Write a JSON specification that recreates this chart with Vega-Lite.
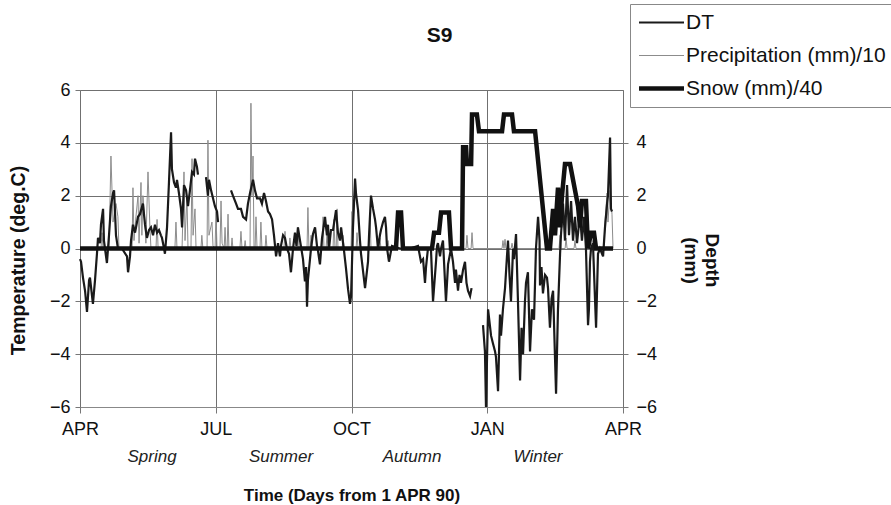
{
  "$schema": "https://vega.github.io/schema/vega-lite/v6.json",
  "width": 543,
  "height": 317,
  "autosize": {"type": "none"},
  "padding": {"left": 80, "top": 90, "right": 268, "bottom": 98},
  "background": "white",
  "title": {"text": "S9", "fontSize": 21, "font": "Liberation Sans", "fontWeight": "bold", "dx": 88, "offset": -42, "color": "#111"},
  "config": {
    "font": "Liberation Sans",
    "view": {"stroke": "#8a8a8a", "strokeWidth": 1},
    "axis": {"labelColor": "#111", "titleColor": "#111", "tickColor": "#777", "gridColor": "#707070", "labelFont": "Liberation Sans", "titleFont": "Liberation Sans"}
  },
  "datasets": {
    "precip": [
      {"day":0,"value":0},{"day":14.1,"value":0},{"day":14.8,"value":0.6},{"day":15.5,"value":0},{"day":19.5,"value":0},{"day":20.8,"value":3.5},{"day":22.2,"value":1.0},{"day":24.2,"value":1.7},{"day":25.5,"value":1.2},{"day":26.2,"value":0},
      {"day":35.0,"value":0},{"day":35.6,"value":2.3},{"day":36.3,"value":0.3},{"day":37.6,"value":1.2},{"day":39.0,"value":2.0},{"day":39.7,"value":0.2},{"day":41.0,"value":2.5},{"day":41.6,"value":0.5},{"day":42.3,"value":2.0},{"day":43.7,"value":1.0},{"day":44.3,"value":0.2},{"day":45.7,"value":2.9},{"day":47.0,"value":0.8},{"day":47.7,"value":0},
      {"day":51.1,"value":0},{"day":51.8,"value":1.1},{"day":52.5,"value":0},{"day":63.8,"value":0},{"day":64.5,"value":1.0},{"day":65.2,"value":0},{"day":68.6,"value":0},{"day":69.9,"value":2.9},{"day":70.6,"value":0.3},{"day":71.9,"value":2.0},{"day":72.6,"value":0},{"day":74.6,"value":0},{"day":75.3,"value":3.4},{"day":76.0,"value":0.5},{"day":77.3,"value":1.5},{"day":78.0,"value":0},
      {"day":81.3,"value":0},{"day":81.9,"value":0.5},{"day":82.6,"value":0},{"day":85.4,"value":0},{"day":86.0,"value":4.1},{"day":86.7,"value":0.5},{"day":88.7,"value":1.0},{"day":89.4,"value":0.1},{"day":90.8,"value":0},{"day":91.4,"value":1.4},{"day":92.1,"value":0},{"day":94.1,"value":0},{"day":94.8,"value":1.8},{"day":95.5,"value":0.2},{"day":96.9,"value":0},{"day":97.5,"value":0.8},{"day":98.1,"value":0},{"day":98.9,"value":0},{"day":99.5,"value":1.3},{"day":100.1,"value":0},{"day":101.6,"value":0},{"day":102.2,"value":0.4},{"day":102.8,"value":0},
      {"day":107.5,"value":0},{"day":108.2,"value":0.65},{"day":108.9,"value":0},{"day":110.4,"value":0},{"day":111.0,"value":0.3},{"day":111.6,"value":0},{"day":114.3,"value":0},{"day":114.9,"value":5.5},{"day":115.6,"value":2.0},{"day":116.3,"value":3.5},{"day":117.0,"value":0},{"day":117.7,"value":0},{"day":118.3,"value":1.2},{"day":119.0,"value":0},{"day":121.0,"value":0},{"day":121.6,"value":1.0},{"day":122.3,"value":0},{"day":124.4,"value":0},{"day":125.0,"value":0.5},{"day":125.7,"value":0},
      {"day":137.1,"value":0},{"day":137.8,"value":0.65},{"day":138.5,"value":0},{"day":140.5,"value":0},{"day":141.1,"value":0.4},{"day":141.8,"value":0},{"day":145.9,"value":0},{"day":146.5,"value":0.8},{"day":147.2,"value":0},{"day":152.6,"value":0},{"day":153.2,"value":1.55},{"day":153.9,"value":0},{"day":154.7,"value":0},{"day":155.3,"value":0.5},{"day":156.0,"value":0},
      {"day":162.7,"value":0},{"day":163.4,"value":1.2},{"day":164.0,"value":0},{"day":165.4,"value":0},{"day":166.0,"value":0.5},{"day":166.7,"value":0},{"day":170.1,"value":0},{"day":170.7,"value":1.1},{"day":171.4,"value":0},{"day":172.2,"value":0},{"day":172.8,"value":1.5},{"day":173.4,"value":0},{"day":176.2,"value":0},{"day":176.8,"value":0.5},{"day":177.5,"value":0},
      {"day":182.2,"value":0},{"day":182.8,"value":1.4},{"day":183.5,"value":0},{"day":185.6,"value":0},{"day":186.2,"value":0.6},{"day":186.9,"value":0},{"day":194.3,"value":0},{"day":195.0,"value":1.2},{"day":195.6,"value":0},{"day":201.0,"value":0},{"day":201.6,"value":0.4},{"day":202.3,"value":0},{"day":206.4,"value":0},{"day":207.1,"value":0.3},{"day":207.7,"value":0},
      {"day":259.5,"value":0},{"day":260.1,"value":0.5},{"day":260.8,"value":0},{"day":262.9,"value":0},{"day":263.5,"value":0.6},{"day":264.2,"value":0},{"day":283.7,"value":0},{"day":284.3,"value":0.3},{"day":285.0,"value":0},{"day":285.7,"value":0.35},{"day":286.3,"value":0},{"day":289.8,"value":0},{"day":290.4,"value":0.2},{"day":291.1,"value":0},
      {"day":322.0,"value":0},{"day":322.7,"value":0.5},{"day":323.3,"value":0},{"day":326.1,"value":0},{"day":326.7,"value":0.4},{"day":327.4,"value":0},{"day":332.1,"value":0},{"day":332.7,"value":0.3},{"day":333.4,"value":0},{"day":344.2,"value":0},{"day":344.8,"value":0.3},{"day":345.5,"value":0},
      {"day":352.2,"value":0},{"day":352.9,"value":1.0},{"day":354.3,"value":2.1},{"day":354.9,"value":1.0},{"day":356.3,"value":2.2},{"day":357.6,"value":1.3},{"day":358.3,"value":0}
    ],
    "dt": [
      {"day":0,"value":-0.4},{"day":0.7,"value":-0.5},{"day":2.0,"value":-1.1},{"day":3.4,"value":-1.6},{"day":4.7,"value":-2.4},{"day":6.1,"value":-1.2},{"day":6.7,"value":-1.1},{"day":8.1,"value":-1.8},{"day":8.7,"value":-2.1},{"day":10.1,"value":-1.2},{"day":11.4,"value":-0.2},{"day":12.1,"value":0.4},{"day":13.4,"value":0.2},{"day":14.1,"value":0.9},{"day":15.5,"value":1.5},{"day":16.1,"value":0.3},{"day":17.5,"value":-0.3},{"day":18.1,"value":-0.55},{"day":19.5,"value":0.5},{"day":20.8,"value":1.6},{"day":22.2,"value":2.1},{"day":22.9,"value":2.2},{"day":24.2,"value":0.5},{"day":25.5,"value":0.0},{"day":28.2,"value":0.0},
      {"day":31.6,"value":-0.3},{"day":32.3,"value":-0.9},{"day":33.6,"value":-0.3},{"day":34.3,"value":0.3},{"day":35.6,"value":0.9},{"day":37.0,"value":0.6},{"day":39.0,"value":1.2},{"day":40.3,"value":1.3},{"day":42.3,"value":1.7},{"day":43.7,"value":0.9},{"day":45.0,"value":0.4},{"day":46.4,"value":0.7},{"day":47.7,"value":0.8},{"day":49.1,"value":0.5},{"day":50.4,"value":0.9},{"day":51.8,"value":0.6},{"day":53.1,"value":0.7},{"day":54.4,"value":0.5},{"day":55.1,"value":0.4},{"day":56.5,"value":0.0},{"day":57.1,"value":-0.2},{"day":58.5,"value":0.8},
      {"day":59.8,"value":2.5},{"day":61.2,"value":4.4},{"day":61.8,"value":3.0},{"day":63.2,"value":2.5},{"day":64.5,"value":2.3},{"day":65.2,"value":2.6},{"day":66.5,"value":2.1},{"day":67.9,"value":1.5},{"day":68.6,"value":0.8},{"day":69.9,"value":2.4},{"day":71.3,"value":2.2},{"day":72.6,"value":1.6},{"day":73.9,"value":2.2},{"day":75.3,"value":2.9},{"day":76.6,"value":2.8},{"day":77.3,"value":3.4},{"day":78.6,"value":3.1},{"day":79.3,"value":2.8},{"day":81.0,"value":null},
      {"day":84.7,"value":2.7},{"day":86.0,"value":2.0},{"day":86.7,"value":2.6},{"day":88.1,"value":2.2},{"day":89.4,"value":1.9},{"day":90.7,"value":1.6},{"day":92.1,"value":1.4},{"day":92.8,"value":1.0},{"day":97.0,"value":null},
      {"day":101.5,"value":2.2},{"day":102.8,"value":2.0},{"day":104.9,"value":1.7},{"day":106.2,"value":1.5},{"day":108.2,"value":1.5},{"day":109.6,"value":1.2},{"day":111.6,"value":1.1},{"day":112.9,"value":1.7},{"day":114.3,"value":2.1},{"day":116.3,"value":2.6},{"day":117.6,"value":2.2},{"day":119.0,"value":1.9},{"day":121.0,"value":1.9},{"day":122.3,"value":1.7},{"day":123.7,"value":2.1},{"day":125.0,"value":1.8},{"day":126.4,"value":1.4},{"day":127.7,"value":1.3},{"day":129.1,"value":1.1},{"day":130.4,"value":0.5},{"day":131.8,"value":-0.3},
      {"day":133.1,"value":0.2},{"day":134.4,"value":-0.3},{"day":135.1,"value":0.1},{"day":136.5,"value":0.5},{"day":137.8,"value":0.4},{"day":139.1,"value":0.0},{"day":140.5,"value":-0.2},{"day":141.8,"value":-0.9},{"day":143.2,"value":0.0},{"day":144.5,"value":0.6},{"day":145.5,"value":0.1},{"day":146.5,"value":0.8},{"day":147.9,"value":0.3},{"day":149.9,"value":-0.4},{"day":151.2,"value":-1.25},{"day":152.0,"value":-0.7},{"day":152.6,"value":-2.2},{"day":153.2,"value":-1.2},{"day":155.3,"value":0.0},{"day":156.6,"value":0.55},{"day":158.0,"value":0.8},{"day":159.3,"value":0.1},{"day":160.0,"value":-0.1},{"day":161.3,"value":-0.6},{"day":162.0,"value":-0.1},{"day":162.7,"value":0.4},{"day":164.7,"value":1.2},{"day":165.4,"value":0.8},{"day":166.0,"value":0.5},{"day":166.7,"value":0.9},{"day":167.4,"value":0.0},{"day":168.7,"value":0.7},{"day":170.1,"value":0.7},{"day":172.1,"value":1.45},{"day":173.4,"value":0.6},{"day":174.8,"value":0.3},{"day":175.5,"value":0.8},{"day":177.5,"value":-0.1},{"day":178.8,"value":-0.75},{"day":180.2,"value":-1.55},{"day":181.5,"value":-2.1},{"day":182.2,"value":-1.8},
      {"day":183.5,"value":0.8},{"day":184.9,"value":2.65},{"day":185.5,"value":2.1},{"day":186.9,"value":1.45},{"day":188.2,"value":0.3},{"day":188.9,"value":-0.2},{"day":191.6,"value":-1.5},{"day":193.6,"value":-0.5},{"day":194.3,"value":0.5},{"day":195.6,"value":2.0},{"day":197.0,"value":1.5},{"day":198.3,"value":1.1},{"day":199.0,"value":0.8},{"day":200.3,"value":0.0},{"day":201.6,"value":0.5},{"day":202.3,"value":0.7},{"day":203.7,"value":1.0},{"day":205.0,"value":1.2},{"day":205.7,"value":0.8},{"day":206.4,"value":0.0},{"day":207.7,"value":-0.5},{"day":209.7,"value":0.1},{"day":215.1,"value":0.0},{"day":221.8,"value":0.0},{"day":227.2,"value":0.1},
      {"day":229.2,"value":-0.5},{"day":230.6,"value":-0.4},{"day":231.9,"value":-1.3},{"day":232.6,"value":-0.7},{"day":233.9,"value":0.0},{"day":235.9,"value":0.0},{"day":237.3,"value":-2.0},{"day":239.3,"value":-0.5},{"day":240.0,"value":0.1},{"day":240.6,"value":0.2},{"day":242.0,"value":-0.3},{"day":242.7,"value":0.0},{"day":244.0,"value":0.3},{"day":246.0,"value":-2.0},{"day":247.4,"value":-0.6},{"day":249.4,"value":0.0},{"day":250.7,"value":-0.5},{"day":252.1,"value":-1.3},{"day":252.7,"value":-0.8},{"day":254.1,"value":-1.6},{"day":255.1,"value":-1.0},{"day":256.1,"value":-1.3},{"day":257.5,"value":-0.8},{"day":258.8,"value":-0.5},{"day":259.8,"value":-1.3},{"day":260.8,"value":-1.6},{"day":262.2,"value":-1.8},{"day":263.2,"value":-1.5},{"day":266.0,"value":null},
      {"day":270.9,"value":-2.9},{"day":272.2,"value":-3.9},{"day":272.9,"value":-6.0},{"day":274.3,"value":-2.3},{"day":276.3,"value":-3.3},{"day":277.6,"value":-3.6},{"day":279.0,"value":-3.9},{"day":279.6,"value":-4.1},{"day":281.0,"value":-5.4},{"day":282.3,"value":-2.5},{"day":283.0,"value":-3.3},{"day":284.3,"value":-2.3},{"day":285.7,"value":-1.5},{"day":287.0,"value":-0.3},{"day":287.7,"value":0.3},{"day":288.7,"value":-1.0},{"day":289.7,"value":-2.0},{"day":291.1,"value":0.0},{"day":291.7,"value":-0.4},{"day":293.1,"value":0.55},{"day":294.4,"value":-2.0},{"day":295.8,"value":-5.0},{"day":296.8,"value":-3.0},{"day":297.8,"value":-4.0},{"day":299.1,"value":-2.0},{"day":299.8,"value":-1.3},{"day":301.1,"value":-0.9},{"day":302.5,"value":-3.9},{"day":303.8,"value":-2.3},{"day":305.2,"value":-2.7},{"day":306.5,"value":0.0},{"day":307.9,"value":1.2},{"day":308.9,"value":0.3},{"day":309.2,"value":-1.4},{"day":310.2,"value":-0.7},{"day":311.2,"value":-1.7},{"day":312.6,"value":-1.0},{"day":313.9,"value":-1.1},{"day":314.6,"value":-1.5},{"day":315.9,"value":-3.0},{"day":317.0,"value":-1.9},{"day":318.0,"value":-1.6},{"day":320.0,"value":-5.5},{"day":321.3,"value":-2.3},{"day":322.7,"value":-0.2},
      {"day":323.3,"value":0.5},{"day":324.7,"value":1.7},{"day":326.0,"value":0.3},{"day":327.4,"value":2.4},{"day":328.7,"value":0.5},{"day":330.1,"value":1.8},{"day":331.4,"value":0.3},{"day":332.7,"value":1.2},{"day":334.1,"value":0.2},{"day":336.1,"value":1.3},{"day":337.4,"value":0.3},{"day":338.8,"value":1.2},{"day":340.1,"value":0.0},{"day":341.5,"value":-2.9},{"day":342.1,"value":-2.3},{"day":342.8,"value":-0.5},{"day":343.5,"value":0.0},{"day":344.8,"value":0.2},{"day":346.9,"value":-3.0},{"day":348.2,"value":-0.2},{"day":349.5,"value":0.0},{"day":351.6,"value":-0.3},{"day":352.9,"value":0.8},{"day":354.3,"value":1.7},{"day":354.9,"value":2.0},{"day":356.3,"value":4.2},{"day":356.9,"value":1.5},{"day":357.6,"value":1.4}
    ],
    "snow": [
      {"day":0,"value":0},{"day":212.4,"value":0},{"day":213.8,"value":1.36},{"day":215.8,"value":1.36},{"day":217.1,"value":0},{"day":236.6,"value":0},{"day":238.0,"value":0.6},{"day":241.3,"value":0.6},{"day":242.7,"value":1.36},{"day":248.0,"value":1.36},{"day":249.4,"value":0},
      {"day":256.8,"value":0},{"day":257.5,"value":3.83},{"day":259.5,"value":3.83},{"day":260.1,"value":3.2},{"day":262.9,"value":3.2},{"day":263.5,"value":5.07},{"day":266.8,"value":5.07},{"day":268.2,"value":4.44},{"day":283.7,"value":4.44},{"day":285.0,"value":5.07},{"day":290.4,"value":5.07},{"day":291.7,"value":4.44},{"day":305.9,"value":4.44},{"day":313.9,"value":0},
      {"day":315.9,"value":0},{"day":318.0,"value":1.5},{"day":319.3,"value":0.5},{"day":321.3,"value":2.3},{"day":322.7,"value":0.8},{"day":324.0,"value":2.0},{"day":326.0,"value":3.2},{"day":329.4,"value":3.2},{"day":334.8,"value":1.6},{"day":336.1,"value":0.8},{"day":337.4,"value":1.8},{"day":340.1,"value":1.8},{"day":341.5,"value":0},{"day":343.5,"value":0.6},{"day":345.5,"value":0.6},{"day":346.9,"value":0},{"day":358.3,"value":0}
    ],
    "seasons": [
      {"season":"Spring","day":48.4},{"season":"Summer","day":135.1},{"season":"Autumn","day":223.2},{"season":"Winter","day":307.9}
    ]
  },
  "layer": [
    {
      "layer": [
        {
          "data": {"name": "precip"},
          "mark": {"type": "line", "strokeWidth": 1},
          "encoding": {
            "x": {"field": "day", "type": "quantitative", "title": "Time (Days from 1 APR 90)",
              "scale": {"domain": [0, 365], "nice": false, "zero": false},
              "axis": {"values": [0, 91.25, 182.5, 273.75, 365], "labelExpr": "['APR','JUL','OCT','JAN','APR'][round(datum.value/91.25)]", "grid": true, "tickSize": 6, "domainColor": "#888", "labelFontSize": 18, "labelPadding": 7, "labelFlush": false, "titleFontSize": 17, "titleFontWeight": "bold", "titlePadding": 49}},
            "y": {"field": "value", "type": "quantitative", "title": "Temperature (deg.C)",
              "scale": {"domain": [-6, 6], "nice": false, "zero": false},
              "axis": {"values": [-6, -4, -2, 0, 2, 4, 6], "grid": true, "tickSize": 5, "labelPadding": 5, "labelFontSize": 18, "titleFontSize": 19.5, "titleFontWeight": "bold", "titlePadding": 21, "titleY": 170, "domain": false}},
            "color": {"datum": "Precipitation (mm)/10", "type": "nominal",
              "scale": {"domain": ["DT", "Precipitation (mm)/10", "Snow (mm)/40"], "range": ["#1a1a1a", "#8c8c8c", "#111111"]},
              "legend": {"orient": "none", "legendX": 550, "legendY": -86, "title": null, "fillColor": "white", "strokeColor": "#888", "padding": 8, "symbolType": "stroke", "symbolSize": 2025, "symbolOffset": 13, "labelFontSize": 21, "labelFont": "Liberation Sans", "labelColor": "#111", "labelOffset": 14, "rowPadding": 11, "labelLimit": 300,
                "encode": {"symbols": {"update": {"strokeWidth": {"signal": "datum.value === 'Snow (mm)/40' ? 4.5 : datum.value === 'DT' ? 2 : 1"}}}}}}
          }
        },
        {
          "data": {"name": "dt"},
          "mark": {"type": "line", "strokeWidth": 2.2},
          "encoding": {
            "x": {"field": "day", "type": "quantitative", "title": "Time (Days from 1 APR 90)"},
            "y": {"field": "value", "type": "quantitative", "title": "Temperature (deg.C)"},
            "color": {"datum": "DT", "type": "nominal"}
          }
        },
        {
          "data": {"name": "snow"},
          "mark": {"type": "line", "strokeWidth": 4.5},
          "encoding": {
            "x": {"field": "day", "type": "quantitative", "title": "Time (Days from 1 APR 90)"},
            "y": {"field": "value", "type": "quantitative", "title": "Temperature (deg.C)"},
            "color": {"datum": "Snow (mm)/40", "type": "nominal"}
          }
        }
      ]
    },
    {
      "data": {"name": "seasons"},
      "mark": {"type": "text", "fontStyle": "italic", "fontSize": 17, "baseline": "middle", "align": "center", "color": "#222"},
      "encoding": {
        "x": {"field": "day", "type": "quantitative", "title": "Time (Days from 1 APR 90)"},
        "y": {"datum": -7.9, "type": "quantitative",
          "scale": {"domain": [-6, 6], "nice": false, "zero": false},
          "axis": {"orient": "right", "title": ["Depth", "(mm)"], "values": [-6, -4, -2, 0, 2, 4], "grid": false, "tickSize": 5, "labelPadding": 8, "labelFontSize": 18, "titleFontSize": 19, "titleFontWeight": "bold", "titleAngle": 90, "titlePadding": 24, "titleY": 170, "domain": false}},
        "text": {"field": "season"}
      }
    }
  ],
  "resolve": {"axis": {"y": "independent"}}
}
